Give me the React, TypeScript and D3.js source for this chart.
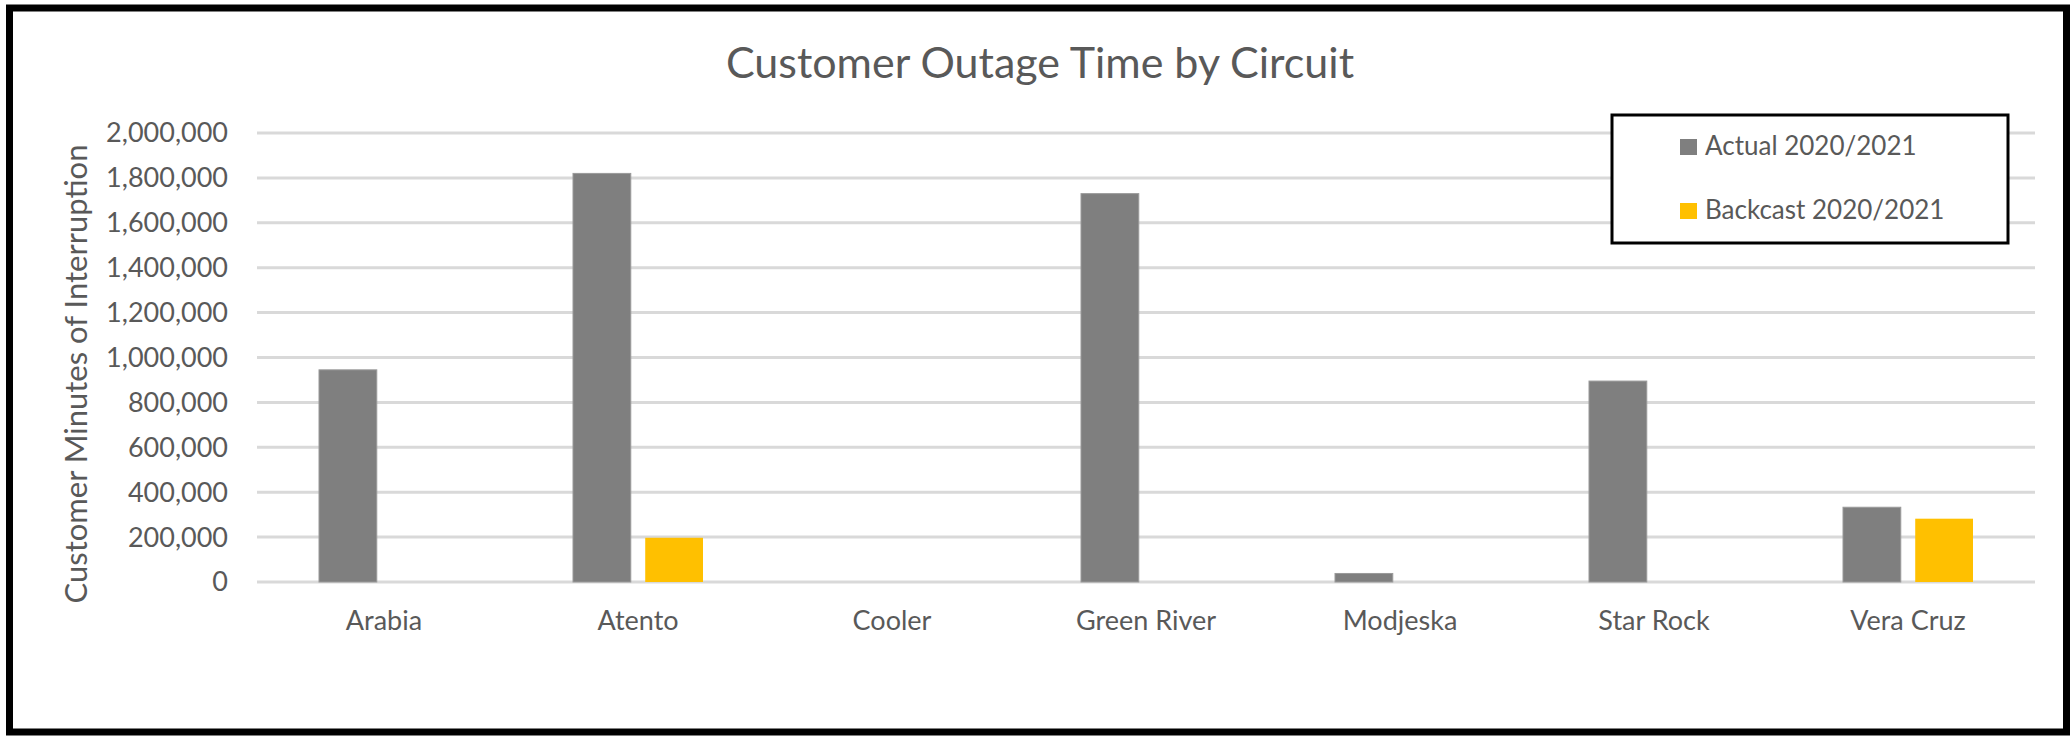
import React from 'react';
import * as d3 from 'd3';

const circuits = ['Arabia', 'Atento', 'Cooler', 'Green River', 'Modjeska', 'Star Rock', 'Vera Cruz'];
const seriesNames = ['Actual 2020/2021', 'Backcast 2020/2021'];
const actual = [945000, 1820000, 0, 1730000, 38000, 895000, 333000];
const backcast = [0, 197000, 0, 0, 0, 0, 282000];
const yTicks = [0, 200000, 400000, 600000, 800000, 1000000, 1200000, 1400000, 1600000, 1800000, 2000000];
const colors = ['#7F7F7F', '#FFC000'];

const W = 2071;
const H = 736;
const FONT = 'Lato, "Open Sans", sans-serif';
const TEXT = '#595959';

const App: React.FC = () => {
  const x0 = d3.scaleBand<string>().domain(circuits).range([257, 2035]);
  const x1 = d3.scaleBand<string>().domain(seriesNames).range([62, 192]).paddingInner(0.2);
  const y = d3.scaleLinear().domain([0, 2000000]).range([582, 133]);
  const fmt = d3.format(',');
  const values = [actual, backcast];

  return (
    <div style={{ position: 'absolute', left: 0, top: 0 }}>
      <svg width={W} height={H} style={{ display: 'block', background: '#fff' }}>
        {/* cadre */}
        <rect x={9.5} y={8} width={2057} height={724} fill="#fff" stroke="#000" strokeWidth={7} />

        {/* titre */}
        <text x={1040} y={78} textAnchor="middle" fill={TEXT} fontFamily={FONT} fontSize={43}>
          Customer Outage Time by Circuit
        </text>

        {/* grille + graduations */}
        {yTicks.map(t => (
          <g key={t}>
            <line x1={257} x2={2035} y1={y(t)} y2={y(t)} stroke="#D9D9D9" strokeWidth={3} />
            <text x={228} y={y(t)} dy="0.35em" textAnchor="end" fill={TEXT} fontFamily={FONT} fontSize={27}>
              {fmt(t)}
            </text>
          </g>
        ))}

        {/* barres */}
        {circuits.map((c, i) => (
          <g key={c} transform={`translate(${x0(c)},0)`}>
            {seriesNames.map((s, j) => {
              const v = values[j][i];
              if (!v) return null;
              return (
                <rect
                  key={s}
                  x={x1(s)}
                  y={y(v)}
                  width={x1.bandwidth()}
                  height={y(0) - y(v)}
                  fill={colors[j]}
                  stroke={j === 0 ? '#9a9a9a' : 'none'}
                  strokeWidth={1}
                />
              );
            })}
            <text
              x={x0.bandwidth() / 2}
              y={630}
              textAnchor="middle"
              fill={TEXT}
              fontFamily={FONT}
              fontSize={27}
            >
              {c}
            </text>
          </g>
        ))}

        {/* titre axe Y */}
        <text
          transform={`translate(87,374) rotate(-90)`}
          textAnchor="middle"
          fill={TEXT}
          fontFamily={FONT}
          fontSize={31}
        >
          Customer Minutes of Interruption
        </text>

        {/* légende */}
        <rect x={1612} y={115} width={396} height={128} fill="#fff" stroke="#000" strokeWidth={3} />
        {seriesNames.map((s, j) => (
          <g key={s} transform={`translate(1680,${139 + j * 64})`}>
            <rect x={0} y={0} width={17} height={16} fill={colors[j]} />
            <text x={25} y={16} fill={TEXT} fontFamily={FONT} fontSize={26}>
              {s}
            </text>
          </g>
        ))}
      </svg>
    </div>
  );
};

export default App;
